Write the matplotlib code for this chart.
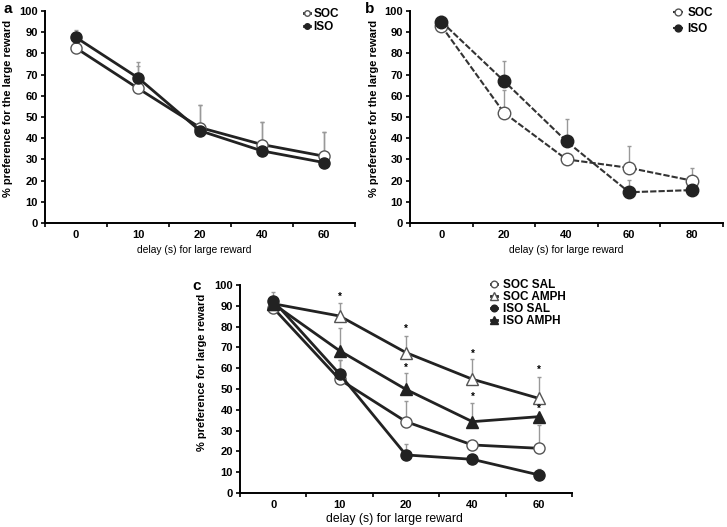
import matplotlib.pyplot as plt
import numpy as np

plt.rcParams['font.family'] = ['Liberation Sans', 'DejaVu Sans']

# panel a
delays_a = ["0", "10", "20", "40", "60"]
soc_a = [82.5, 63.5, 45, 37, 31.5]
iso_a = [87.5, 68.5, 43.5, 34, 28.5]
soc_a_err = [0, 10.5, 10.5, 10.5, 11.5]
iso_a_err = [3.5, 7.5, 12, 13.5, 14.5]

# panel b
delays_b = ["0", "20", "40", "60", "80"]
soc_b = [93, 52, 30, 26, 20]
iso_b = [95, 67, 38.5, 14.5, 15.5]
soc_b_err = [0, 10.5, 0, 10.5, 6]
iso_b_err = [2.5, 9.5, 10.5, 6, 0]

# panel c
delays_c = ["0", "10", "20", "40", "60"]
soc_sal = [89, 54.6, 34.3, 23.1, 21.5]
soc_amph = [91, 85.1, 67.5, 54.7, 45.5]
iso_sal = [92.5, 57.2, 18.3, 16.2, 8.7]
iso_amph = [91, 68.4, 49.8, 34.3, 36.7]
soc_sal_err = [0, 9.5, 10.1, 0, 11.2]
soc_amph_err = [0, 6.1, 8, 9.6, 10.5]
iso_sal_err = [4, 6.8, 5.3, 0, 2.7]
iso_amph_err = [0, 10.8, 7.7, 8.8, 0]
stars_soc_amph = [None, 94.4, 78.7, 67.1, 59.1]
stars_iso_amph = [None, None, 60.4, 46, 40.7]

DARK = '#222222'


def style_axes(ax, labels, ylabel, ylab_xy, xlab_xy, xlab_size):
    x = np.arange(len(labels))
    ax.set_xlim(-0.5, len(labels) - 0.5)
    ax.set_ylim(0, 100)
    ax.set_yticks(range(0, 101, 10))
    ax.set_xticks(x)
    ax.set_xticklabels(labels, fontsize=8, fontweight='bold')
    ax.set_xticks(np.arange(-0.5, len(labels)), minor=True)
    ax.tick_params(axis='x', which='major', length=0, pad=5)
    ax.tick_params(axis='x', which='minor', length=3, width=1.2, direction='out')
    ax.tick_params(axis='y', length=3, width=1.2, direction='out', pad=2)
    for t in ax.get_yticklabels():
        t.set_fontsize(8)
        t.set_fontweight('bold')
    for s in ['top', 'right']:
        ax.spines[s].set_visible(False)
    for s in ['left', 'bottom']:
        ax.spines[s].set_linewidth(1.4)
    ax.set_xlabel('delay (s) for large reward', fontsize=xlab_size)
    ax.xaxis.set_label_coords(*xlab_xy)
    ax.set_ylabel(ylabel, fontsize=8, fontweight='bold')
    ax.yaxis.set_label_coords(*ylab_xy)


def err(ax, x, y, e):
    e = np.array(e)
    ax.errorbar(x, y, yerr=[np.zeros_like(e), e], fmt='none', ecolor='#999999',
                elinewidth=1, capsize=1.2, capthick=1, zorder=1)


fig = plt.figure(figsize=(7.27, 5.27), dpi=100)

# a
ax = fig.add_axes([0.0619, 0.5769, 0.4264, 0.4023])
x = np.arange(len(delays_a))
err(ax, x, soc_a, soc_a_err)
err(ax, x, iso_a, iso_a_err)
ax.plot(x, soc_a, '-o', color=DARK, lw=2, ms=8, mfc='white', mec='#555555', mew=1, label='SOC', zorder=3)
ax.plot(x, iso_a, '-o', color=DARK, lw=2, ms=8, mfc=DARK, mec=DARK, label='ISO', zorder=3)
style_axes(ax, delays_a, '% preference for the large reward', (-0.104, 0.54), (0.48, -0.105), 7.4)
ax.legend(loc='upper left', bbox_to_anchor=(0.835, 1.015), borderaxespad=0, borderpad=0,
          frameon=False, handlelength=0.5, handletextpad=0.3, labelspacing=0.1,
          markerscale=0.5, prop={'weight': 'bold', 'size': 8.5})
fig.text(0.005, 0.975, 'a', fontsize=11, fontweight='bold', va='baseline')

# b
ax = fig.add_axes([0.564, 0.5769, 0.4305, 0.4023])
x = np.arange(len(delays_b))
err(ax, x, soc_b, soc_b_err)
err(ax, x, iso_b, iso_b_err)
ax.plot(x, soc_b, '--o', color='#333333', lw=1.5, ms=9, mfc='white', mec='#555555', mew=1,
        dashes=(3, 1), label='SOC', zorder=3)
ax.plot(x, iso_b, '--o', color='#333333', lw=1.5, ms=9, mfc=DARK, mec=DARK,
        dashes=(3, 1), label='ISO', zorder=3)
style_axes(ax, delays_b, '% preference for the large reward', (-0.1, 0.54), (0.5, -0.105), 7.4)
ax.legend(loc='upper left', bbox_to_anchor=(0.84, 1.02), borderaxespad=0, borderpad=0,
          frameon=False, handlelength=0.85, handletextpad=0.4, labelspacing=0.35,
          markerscale=0.55, prop={'weight': 'bold', 'size': 8.5})
fig.text(0.502, 0.975, 'b', fontsize=11, fontweight='bold', va='baseline')

# c
ax = fig.add_axes([0.3301, 0.0645, 0.4567, 0.3947])
x = np.arange(len(delays_c))
for y, e in [(soc_sal, soc_sal_err), (soc_amph, soc_amph_err), (iso_sal, iso_sal_err), (iso_amph, iso_amph_err)]:
    err(ax, x, y, e)
ax.plot(x, soc_sal, '-o', color=DARK, lw=2, ms=8, mfc='white', mec='#555555', mew=1, label='SOC SAL', zorder=3)
ax.plot(x, soc_amph, '-^', color=DARK, lw=2, ms=9, mfc='white', mec='#555555', mew=1, label='SOC AMPH', zorder=3)
ax.plot(x, iso_sal, '-o', color=DARK, lw=2, ms=8, mfc=DARK, mec=DARK, label='ISO SAL', zorder=3)
ax.plot(x, iso_amph, '-^', color=DARK, lw=2, ms=9, mfc=DARK, mec=DARK, label='ISO AMPH', zorder=3)
for i in range(len(delays_c)):
    for s in (stars_soc_amph[i], stars_iso_amph[i]):
        if s is not None:
            ax.text(x[i], s, '*', ha='center', va='center', fontsize=7, fontweight='bold')
style_axes(ax, delays_c, '% preference for large reward', (-0.1, 0.58), (0.464, -0.095), 8.8)
ax.legend(loc='upper left', bbox_to_anchor=(0.755, 1.03), borderaxespad=0, borderpad=0,
          frameon=False, handlelength=0.55, handletextpad=0.5, labelspacing=0.0,
          markerscale=0.6, prop={'weight': 'bold', 'size': 8.5})
fig.text(0.265, 0.4497, 'c', fontsize=11, fontweight='bold', va='baseline')

fig.savefig('out.png', dpi=100)
